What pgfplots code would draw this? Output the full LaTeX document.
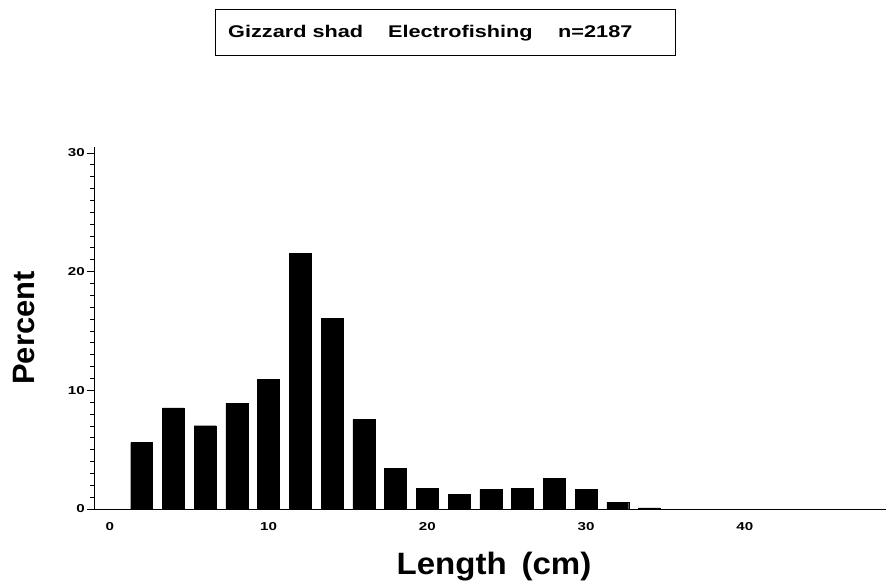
\documentclass[border=0pt]{standalone}
\usepackage{fontspec}
\setmainfont{Liberation Sans}
\usepackage{graphicx}
\usepackage{pgfplots}
\pgfplotsset{compat=1.18}
\newcommand{\tl}[1]{\scalebox{1.32}[1]{#1}}
\begin{document}
\begin{tikzpicture}[x=1bp,y=1bp]
\useasboundingbox (0,0) rectangle (886,585);
\draw[line width=0.9bp] (215,530) rectangle (675,576);
\node[anchor=base west, inner sep=0pt, font=\bfseries\fontsize{17}{18}\selectfont] at (228,547.5)
  {\scalebox{1.28}[1]{Gizzard shad\hspace{19.5bp}Electrofishing\hspace{20bp}n=2187}};
\begin{axis}[
  at={(94bp,76bp)}, anchor=south west, scale only axis,
  width=792bp, height=362bp,
  xmin=-1, xmax=48.9, ymin=0, ymax=30.5,
  axis x line=bottom, axis y line=left,
  axis line style={-, line width=0.9bp, black},
  xtick={0,10,20,30,40},
  xticklabels={\tl{0},\tl{10},\tl{20},\tl{30},\tl{40}},
  ytick={0,10,20,30},
  yticklabels={\tl{0},\tl{10},\tl{20},\tl{30}},
  minor y tick num=9,
  tick align=outside,
  major tick length=7bp, minor tick length=4bp,
  xtick style={draw=none},
  ytick style={line width=0.8bp, black},
  /pgf/number format/assume math mode=true,
  ticklabel style={font=\bfseries\fontsize{11.5}{12}\selectfont, inner sep=0pt},
  xticklabel style={anchor=north, yshift=-6bp},
  yticklabel style={anchor=east, xshift=-2bp},
  xlabel={\scalebox{1.07}[1]{Length\hspace{0.45em}(cm)}},
  ylabel={Percent},
  xlabel style={font=\bfseries\fontsize{31}{32}\selectfont, inner sep=0pt, anchor=base, at={(axis description cs:0.505,0)}, yshift=-66bp},
  ylabel style={font=\bfseries\fontsize{31}{32}\selectfont, inner sep=0pt, anchor=base, at={(axis description cs:0,0.5)}, yshift=59bp},
  ybar, bar width=1.38,
  clip=false,
]
\addplot[fill=black, draw=black, line width=0.3bp] coordinates {
(2,5.6) (4,8.53) (6,7.02) (8,8.9) (10,10.93) (12,21.54) (14,16.06) (16,7.56)
(18,3.43) (20,1.74) (22,1.24) (24,1.63) (26,1.74) (28,2.56) (30,1.63) (32,0.56) (34,0.1)
};
\end{axis}
\end{tikzpicture}
\end{document}
